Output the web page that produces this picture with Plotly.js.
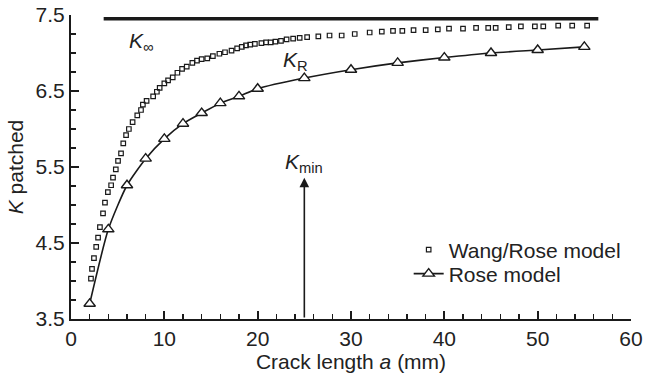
<!DOCTYPE html>
<html>
<head>
<meta charset="utf-8">
<script src="https://cdn.plot.ly/plotly-3.0.1.min.js"></script>
<style>html,body{margin:0;padding:0;background:#fff;}#chart{width:651px;height:385px;}</style>
</head>
<body>
<div id="chart"></div>
<script>
// Wang/Rose model (dense open squares)
const wangX = [2.14,2.25,2.46,2.7,2.9,3.1,3.43,3.64,3.95,4.3,4.5,4.8,5.04,5.36,5.6,5.9,6.2,6.6,7.1,7.5,7.7,8.1,8.8,9.2,9.5,10.0,10.4,10.9,11.4,11.9,12.4,13.0,13.5,14.0,14.6,15.2,15.9,16.5,17.2,17.8,18.3,18.75,19.2,19.7,20.4,20.9,21.4,21.9,22.5,23.1,23.8,24.5,25.3,26.5,27.7,29.0,30.4,32.0,33.3,34.5,35.5,36.7,38.0,39.3,40.5,42.0,43.4,44.7,45.5,46.9,48.2,49.7,50.6,52.2,53.7,55.3];
const wangY = [4.03,4.16,4.3,4.45,4.57,4.71,4.89,5.03,5.17,5.26,5.36,5.47,5.58,5.68,5.81,5.92,6.0,6.09,6.18,6.25,6.32,6.37,6.43,6.49,6.54,6.6,6.64,6.68,6.74,6.79,6.82,6.87,6.9,6.92,6.93,6.96,6.99,7.01,7.03,7.06,7.08,7.10,7.11,7.12,7.13,7.14,7.14,7.15,7.16,7.18,7.19,7.20,7.21,7.22,7.23,7.23,7.25,7.27,7.28,7.29,7.29,7.30,7.30,7.31,7.32,7.32,7.33,7.33,7.33,7.34,7.35,7.35,7.35,7.36,7.36,7.36];
// Rose model (triangles)
const roseX = [2,4,6,8,10,12,14,16,18,20,25,30,35,40,45,50,55];
const roseY = [3.70,4.68,5.26,5.61,5.87,6.07,6.21,6.34,6.43,6.53,6.67,6.78,6.87,6.94,7.00,7.04,7.08];
// K infinity horizontal level
const kInfX = [3.5,56.5];
const kInfY = [7.45,7.45];
// K min arrow
const kMinX = 25;
const kMinTop = 5.36;
const kMinBase = 3.5;
// Labels and ticks
const seriesNames = ['Wang/Rose model','Rose model'];
const xMajorTicks = [0,10,20,30,40,50,60];
const yMajorTicks = [3.5,4.5,5.5,6.5,7.5];
const xMinorStep = 2;
const yMinorStep = 0.25;

const ink = '#1a1a1a';
const txt = '#222';
const fnt = 'Liberation Sans, Arial, sans-serif';

const traces = [
  {x: kInfX, y: kInfY, mode: 'lines', line: {color: ink, width: 3.5}, showlegend: false, hoverinfo: 'skip'},
  {x: wangX, y: wangY, mode: 'markers', name: seriesNames[0], legend: 'legend',
   marker: {symbol: 'square-open', size: 4.5, color: ink, line: {width: 1.2, color: ink}}},
  {x: roseX, y: roseY, mode: 'lines+markers', name: seriesNames[1], legend: 'legend2',
   line: {color: ink, width: 1.6, shape: 'spline', smoothing: 0.6},
   marker: {symbol: 'triangle-up', size: 10, color: '#fff', line: {width: 1.4, color: ink}}}
];

const legFont = {family: fnt, size: 21, color: txt};
const layout = {
  width: 651, height: 385,
  margin: {l: 71, r: 20, t: 15, b: 66},
  paper_bgcolor: '#fff', plot_bgcolor: '#fff',
  font: {family: fnt, size: 21, color: txt},
  showlegend: true,
  legend: {x: 0.603, y: 0.2270, xanchor: 'left', yanchor: 'middle', bgcolor: 'rgba(0,0,0,0)',
           font: legFont, itemwidth: 30},
  legend2: {x: 0.603, y: 0.1480, xanchor: 'left', yanchor: 'middle', bgcolor: 'rgba(0,0,0,0)',
           font: legFont, itemwidth: 30},
  xaxis: {range: [xMajorTicks[0], xMajorTicks[xMajorTicks.length - 1]],
          tickvals: xMajorTicks, ticktext: xMajorTicks.map(String),
          ticks: 'inside', ticklen: 8, tickwidth: 2, tickcolor: ink,
          minor: {tick0: 0, dtick: xMinorStep, ticks: 'inside', ticklen: 5, tickwidth: 1.6, tickcolor: ink, showgrid: false},
          showline: true, linecolor: ink, linewidth: 2, showgrid: false, zeroline: false,
          title: {text: 'Crack length <i>a</i> (mm)', font: {family: fnt, size: 21, color: txt}, standoff: 4}},
  yaxis: {range: [yMajorTicks[0], yMajorTicks[yMajorTicks.length - 1]],
          tickvals: yMajorTicks, ticktext: yMajorTicks.map(v => v.toFixed(1)),
          ticks: 'inside', ticklen: 8, tickwidth: 2, tickcolor: ink,
          minor: {tick0: 3.5, dtick: yMinorStep, ticks: 'inside', ticklen: 5, tickwidth: 1.6, tickcolor: ink, showgrid: false},
          showline: true, linecolor: ink, linewidth: 2, showgrid: false, zeroline: false,
          title: {text: '<i>K</i> patched', font: {family: fnt, size: 21, color: txt}, standoff: 6}},
  annotations: [
    {x: kMinX, y: kMinTop, ax: kMinX, ay: kMinBase, xref: 'x', yref: 'y', axref: 'x', ayref: 'y',
     showarrow: true, arrowhead: 2, arrowsize: 1.2, arrowwidth: 1.6, arrowcolor: ink, text: ''},
    {x: kMinX, y: kMinTop, xref: 'x', yref: 'y', yanchor: 'bottom', yshift: 0, showarrow: false,
     text: '<i>K</i><sub>min</sub>', font: {family: fnt, size: 21, color: txt}},
    {x: 24.0, y: 6.9, xref: 'x', yref: 'y', showarrow: false,
     text: '<i>K</i><sub>R</sub>', font: {family: fnt, size: 21, color: txt}},
    {x: 7.5, y: 7.14, xref: 'x', yref: 'y', showarrow: false,
     text: '<i>K</i><sub>∞</sub>', font: {family: fnt, size: 21, color: txt}}
  ]
};

Plotly.newPlot('chart', traces, layout, {displayModeBar: false, staticPlot: true});
</script>
</body>
</html>
